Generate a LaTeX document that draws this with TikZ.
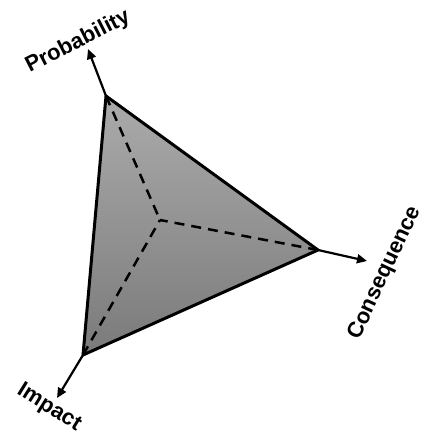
\documentclass[tikz,border=0pt]{standalone}
\usepackage{fontspec}
\setmainfont{Liberation Sans}
\usetikzlibrary{arrows.meta}
\begin{document}
\begin{tikzpicture}[x=1pt,y=-1pt,
  edge/.style={line width=3pt,line join=round},
  spoke/.style={line width=2.5pt,dash pattern=on 10pt off 7pt},
  axis/.style={line width=2.2pt,-{Triangle[length=10pt,width=9pt]}},
  lbl/.style={font=\bfseries\fontsize{22}{22}\selectfont,inner sep=0pt}]
\useasboundingbox (0,0) rectangle (433,444);
\coordinate (P) at (106,96);
\coordinate (C) at (318,250);
\coordinate (I) at (83,355);
\coordinate (O) at (160,220);
\coordinate (Pt) at (88,49);
\coordinate (Ct) at (367,261);
\coordinate (It) at (57,398);
\shade[top color=black!33,bottom color=black!52] (P) -- (C) -- (I) -- cycle;
\draw[spoke] (P) -- (O);
\draw[spoke] (C) -- (O);
\draw[spoke] (I) -- (O);
\draw[edge] (P) -- (C) -- (I) -- cycle;
\draw[axis] (P) -- (Pt);
\draw[axis] (C) -- (Ct);
\draw[axis] (I) -- (It);
\node[lbl,rotate=27] (lp) at (78,42) {Probability};
\node[lbl,rotate=65] (lc) at (385,273) {Consequence};
\node[lbl,rotate=-32] (li) at (49,408) {Impact};
\end{tikzpicture}
\end{document}
